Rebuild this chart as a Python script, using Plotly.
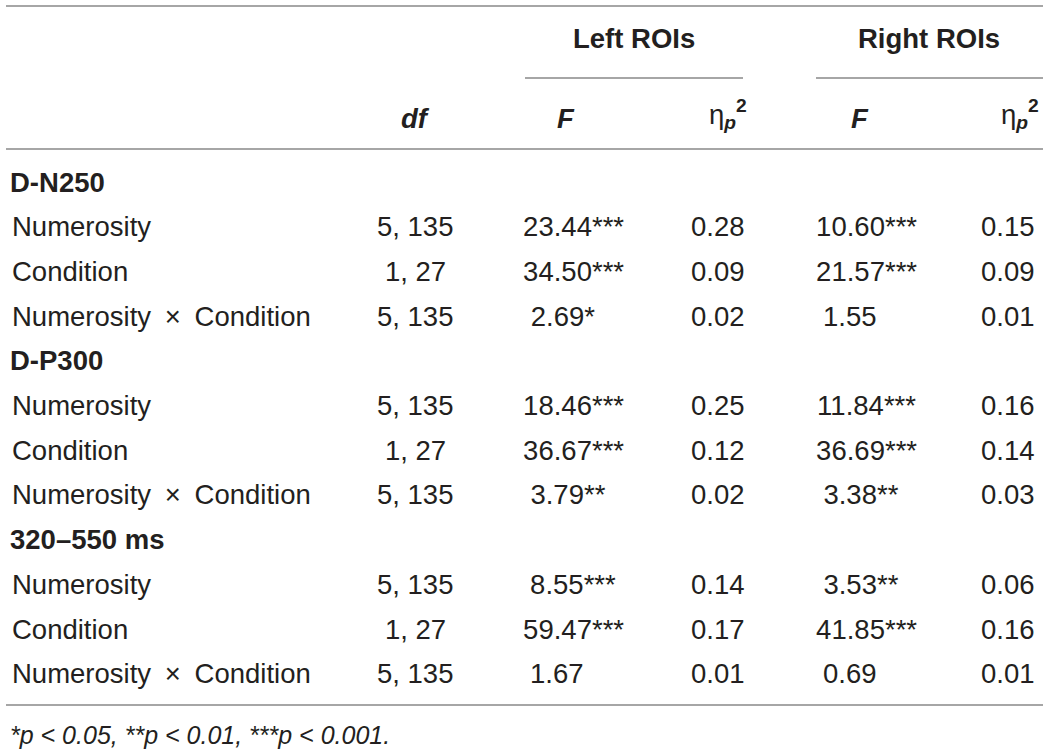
import plotly.graph_objects as go

# table contents
sections = ["D-N250", "D-P300", "320–550 ms"]
effects = ["Numerosity", "Condition", "Numerosity\u2002×\u2002Condition"]
df_vals = ["5, 135", "1, 27", "5, 135"]

left_f = ["23.44", "34.50", "2.69", "18.46", "36.67", "3.79", "8.55", "59.47", "1.67"]
left_sig = ["***", "***", "*", "***", "***", "**", "***", "***", ""]
left_eta = ["0.28", "0.09", "0.02", "0.25", "0.12", "0.02", "0.14", "0.17", "0.01"]

right_f = ["10.60", "21.57", "1.55", "11.84", "36.69", "3.38", "3.53", "41.85", "0.69"]
right_sig = ["***", "***", "", "***", "***", "**", "**", "***", ""]
right_eta = ["0.15", "0.09", "0.01", "0.16", "0.14", "0.03", "0.06", "0.16", "0.01"]

groups = ["Left ROIs", "Right ROIs"]
footnote = "*p < 0.05, **p < 0.01, ***p < 0.001."

W, H = 1043, 752
FONT = "Liberation Sans, Arial, sans-serif"
INK = "#231f20"
RULE = "#a6a6a6"
FS = 27.5

# column anchors (pixels)
x_label = 10
x_df = 415
x_lf, x_le = 557, 747
x_rf, x_re = 850, 1037

fig = go.Figure()
ann = []


def text(x, y, s, anchor="left", bold=False, italic=False, size=FS):
    if bold:
        s = "<b>" + s + "</b>"
    if italic:
        s = "<i>" + s + "</i>"
    ann.append(dict(x=x, y=y, xref="x", yref="y", text=s, showarrow=False,
                    xanchor=anchor, yanchor="middle",
                    font=dict(family=FONT, size=size, color=INK)))


def fval(v, sig):
    # invisible copy of the stars on the left keeps the number itself centred
    if not sig:
        return v
    ghost = '<span style="color:rgba(0,0,0,0)">%s</span>' % sig
    return ghost + v + sig


# header
text(634, 38, groups[0], "center", bold=True)
text(929, 38, groups[1], "center", bold=True)
text(x_df, 118, "df", "center", bold=True, italic=True)
text(566, 118, "F", "center", bold=True, italic=True)
text(860, 118, "F", "center", bold=True, italic=True)
eta = "η<sub><b><i>p</i></b></sub><b><sup>2</sup></b>"
text(x_le + 2, 114, eta, "right")
text(x_re + 4, 114, eta, "right")

# body
step = 44.7
y = 182
k = 0
for s in sections:
    text(x_label - 2, y, s, bold=True)
    y += step
    for j, e in enumerate(effects):
        text(x_label, y, e)
        text(x_df, y, df_vals[j], "center")
        text(x_lf, y, fval(left_f[k], left_sig[k]), "center")
        text(x_le, y, left_eta[k], "right")
        text(x_rf, y, fval(right_f[k], right_sig[k]), "center")
        text(x_re, y, right_eta[k], "right")
        k += 1
        y += step

text(8, 735, footnote, italic=True, size=25)

line = dict(color=RULE, width=2)
shapes = [
    dict(type="line", x0=6, x1=1043, y0=6, y1=6, xref="x", yref="y", line=line),
    dict(type="line", x0=525, x1=743, y0=78, y1=78, xref="x", yref="y", line=line),
    dict(type="line", x0=816, x1=1043, y0=78, y1=78, xref="x", yref="y", line=line),
    dict(type="line", x0=6, x1=1043, y0=149, y1=149, xref="x", yref="y", line=line),
    dict(type="line", x0=6, x1=1043, y0=705, y1=705, xref="x", yref="y", line=line),
]

fig.update_layout(
    width=W, height=H,
    margin=dict(l=0, r=0, t=0, b=0),
    paper_bgcolor="white", plot_bgcolor="white",
    xaxis=dict(range=[0, W], visible=False, fixedrange=True),
    yaxis=dict(range=[H, 0], visible=False, fixedrange=True),
    annotations=ann, shapes=shapes, showlegend=False,
)

# drop the page's default body margin so the figure sits at the window corner
fig.write_html("out.html", post_script="document.body.style.margin='0';",
               config={"displayModeBar": False})
